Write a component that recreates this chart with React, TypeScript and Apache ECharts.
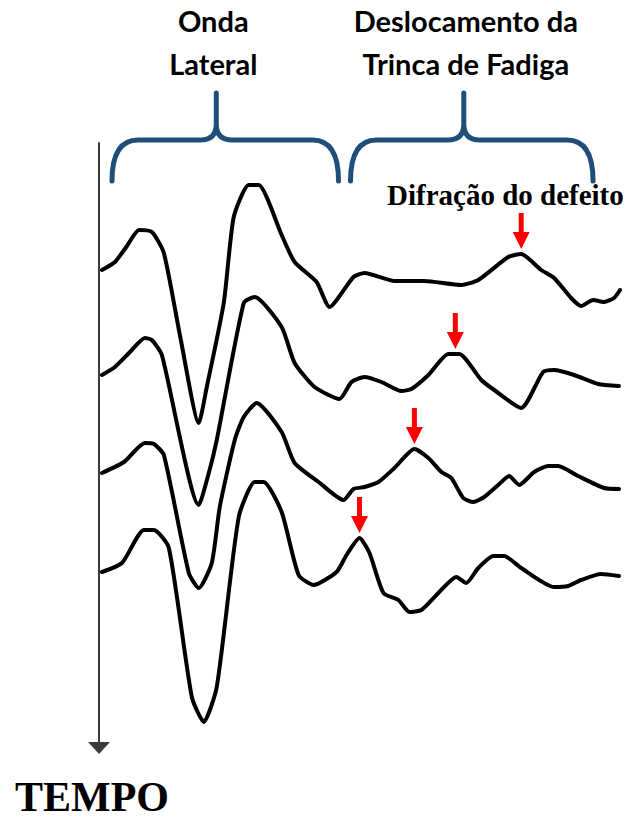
import React, { useEffect, useRef } from "react";
import * as echarts from "echarts";

// Horizontal (signal time) positions and amplitudes (positive = up) of each A-scan trace
const trace1Time = [0.6, 3.2, 5.6, 8.0, 10.6, 13.0, 16.4, 20.0, 21.6, 25.0, 27.0, 30.0, 32.0, 36.6, 39.2, 43.6, 46.2, 51.0, 53.2, 59.2, 65.2, 72.6, 76.0, 82.0, 84.6, 88.6, 91.2, 94.6, 96.6, 99.0, 101.2, 103.2, 104.4];
const trace1Amp = [0, 1.6, 4.8, 8.0, 7.6, 3.4, -14.0, -30.6, -23.4, -6.6, 10.6, 17.0, 17.0, 7.0, 1.6, -2.4, -7.4, -1.4, -0.6, -2.2, -2.2, -3.0, -2.0, 2.6, 3.2, 0, -1.6, -5.6, -7.2, -6.0, -6.4, -5.6, -4.0];

const trace2Time = [0.6, 3.2, 6.2, 9.2, 10.6, 12.6, 20.0, 22.0, 23.6, 29.0, 31.2, 36.6, 39.2, 43.2, 48.2, 50.6, 53.2, 56.6, 60.6, 62.6, 66.0, 70.0, 72.2, 76.6, 79.2, 84.6, 89.0, 91.2, 95.2, 100.0, 104.2];
const trace2Amp = [0, 1.6, 4.6, 7.4, 7.0, 4.0, -26.0, -19.6, -13.0, 14.4, 15.6, 9.6, 2.4, -2.4, -4.8, -1.4, -0.4, -1.4, -3.2, -2.8, 0, 4.2, 4.2, -1.0, -3.0, -6.6, 0.6, 1.0, 0, -1.8, -2.2];

const trace3Time = [0.6, 5.0, 9.2, 11.0, 13.0, 18.0, 20.0, 22.6, 24.2, 27.2, 29.0, 31.6, 36.6, 39.2, 44.0, 49.0, 51.0, 53.2, 56.0, 59.2, 63.2, 66.0, 68.6, 70.6, 73.0, 75.0, 77.2, 80.0, 82.2, 84.2, 87.2, 90.0, 92.0, 96.0, 101.2, 104.2];
const trace3Amp = [0, 2.2, 6.0, 5.8, 3.6, -20.0, -23.0, -18.0, -6.8, 6.6, 11.2, 14.0, 8.2, 2.0, -1.8, -5.4, -3.2, -2.8, -1.8, 1.0, 4.8, 3.0, 0.2, -1.0, -5.0, -5.8, -4.8, -2.4, -0.6, -2.4, 0.2, 1.4, 1.4, -0.6, -3.0, -3.2];

const trace4Time = [0.6, 4.6, 9.0, 11.0, 14.0, 18.6, 21.0, 23.6, 28.0, 31.2, 33.0, 36.6, 40.0, 43.0, 47.6, 49.6, 52.2, 54.2, 57.0, 60.0, 62.2, 64.6, 68.0, 71.6, 73.6, 76.0, 79.0, 81.2, 84.6, 91.2, 94.0, 96.6, 100.6, 104.2];
const trace4Amp = [0, 1.8, 8.4, 8.4, 4.8, -25.0, -30.0, -23.0, 11.0, 18.0, 18.0, 12.0, -0.6, -2.6, 0, 3.4, 6.8, 3.8, -4.2, -5.6, -8.0, -7.6, -4.2, -1.0, -2.2, 0.8, 3.2, 3.2, 0.8, -3.0, -2.8, -1.6, -0.4, -0.8];

// Position of each trace on the TEMPO axis
const traceBaselines = [25.4, 46.4, 66.0, 85.8];

// Defect diffraction peaks (time, amplitude) per trace
const defectTime = [84.6, 71.4, 63.2, 52.2];
const defectAmp = [3.2, 4.2, 4.8, 6.8];

// Brace annotations (time ranges)
const braceStart = [2.6, 50.4];
const braceTip = [23.5, 73.1];
const braceEnd = [48.0, 99.0];
const braceLabels = ["Onda\nLateral", "Deslocamento da\nTrinca de Fadiga"];

const defectLabel = "Difração do defeito";
const axisName = "TEMPO";

const traceTimes = [trace1Time, trace2Time, trace3Time, trace4Time];
const traceAmps = [trace1Amp, trace2Amp, trace3Amp, trace4Amp];

const arrowPath = "path://M6,0L11,0L11,19L17,19L8.5,36L0,19L6,19Z";

export default function App() {
  const ref = useRef<HTMLDivElement>(null);
  useEffect(() => {
    document.body.style.margin = "0";
    document.body.style.overflow = "hidden";
    const chart = echarts.init(ref.current!, null, { renderer: "svg" });

    const lineSeries = traceTimes.map((times, i) => ({
      type: "line",
      data: times.map((t, j) => [t, traceBaselines[i] - traceAmps[i][j]]),
      showSymbol: false,
      symbol: "none",
      silent: true,
      smooth: 0.2,
      lineStyle: { color: "#000", width: 4, cap: "round", join: "round" },
      markPoint: {
        silent: true,
        symbol: arrowPath,
        symbolSize: [17, 36],
        symbolOffset: [0, -23],
        itemStyle: { color: "#ff0000" },
        label: { show: false },
        data: [{ coord: [defectTime[i], traceBaselines[i] - defectAmp[i]] }],
      },
    }));

    const braceSeries = {
      type: "custom",
      silent: true,
      clip: false,
      data: braceStart.map((s, i) => [s, braceTip[i], braceEnd[i]]),
      renderItem: (params: any, api: any) => {
        const idx = params.dataIndex;
        const top = api.coord([0, 0])[1];
        const x0 = api.coord([api.value(0), 0])[0];
        const xm = api.coord([api.value(1), 0])[0];
        const x1 = api.coord([api.value(2), 0])[0];
        const yEnd = top + 38;
        const yBar = top - 3;
        const yTip = top - 50;
        const r = 26;
        const r2 = 16;
        const d =
          `M${x0},${yEnd} Q${x0},${yBar} ${x0 + r},${yBar} L${xm - r2},${yBar} ` +
          `Q${xm},${yBar} ${xm},${yBar - r2} L${xm},${yTip} ` +
          `M${xm},${yBar - r2} Q${xm},${yBar} ${xm + r2},${yBar} L${x1 - r},${yBar} ` +
          `Q${x1},${yBar} ${x1},${yEnd}`;
        return {
          type: "group",
          children: [
            {
              type: "path",
              shape: { pathData: d },
              style: { fill: "none", stroke: "#1f4e79", lineWidth: 5, lineCap: "round", lineJoin: "round" },
            },
            {
              type: "text",
              x: xm + (idx === 0 ? -3 : 2),
              y: -1,
              style: {
                text: braceLabels[idx],
                fill: "#000",
                fontSize: 29,
                fontWeight: "bold",
                fontFamily: "Lato",
                align: "center",
                verticalAlign: "top",
                lineHeight: 43,
              },
            },
          ],
        };
      },
    };

    chart.setOption({
      animation: false,
      backgroundColor: "#fff",
      grid: { left: 98, right: 6, top: 143, bottom: 72 },
      xAxis: { type: "value", min: -0.2, max: 104.8, show: false },
      yAxis: {
        type: "value",
        min: 0,
        max: 121,
        inverse: true,
        axisLine: {
          show: true,
          lineStyle: { color: "#3a3a3a", width: 2 },
          symbol: ["triangle", "none"],
          symbolSize: [22, 12],
        },
        axisTick: { show: false },
        axisLabel: { show: false },
        splitLine: { show: false },
      },
      graphic: [
        {
          type: "text",
          x: 387,
          y: 195,
          style: {
            text: defectLabel,
            fill: "#000",
            fontSize: 29,
            fontWeight: "bold",
            fontFamily: "Liberation Serif",
            align: "left",
            verticalAlign: "middle",
          },
        },
        {
          type: "text",
          x: 15,
          y: 797,
          style: {
            text: axisName,
            fill: "#000",
            fontSize: 42,
            lineHeight: 34,
            fontWeight: "bold",
            fontFamily: "Liberation Serif",
            align: "left",
            verticalAlign: "middle",
          },
        },
      ],
      series: [...lineSeries, braceSeries],
    });
    return () => chart.dispose();
  }, []);
  return <div ref={ref} style={{ position: "fixed", left: 0, top: 0, width: 628, height: 820 }} />;
}
